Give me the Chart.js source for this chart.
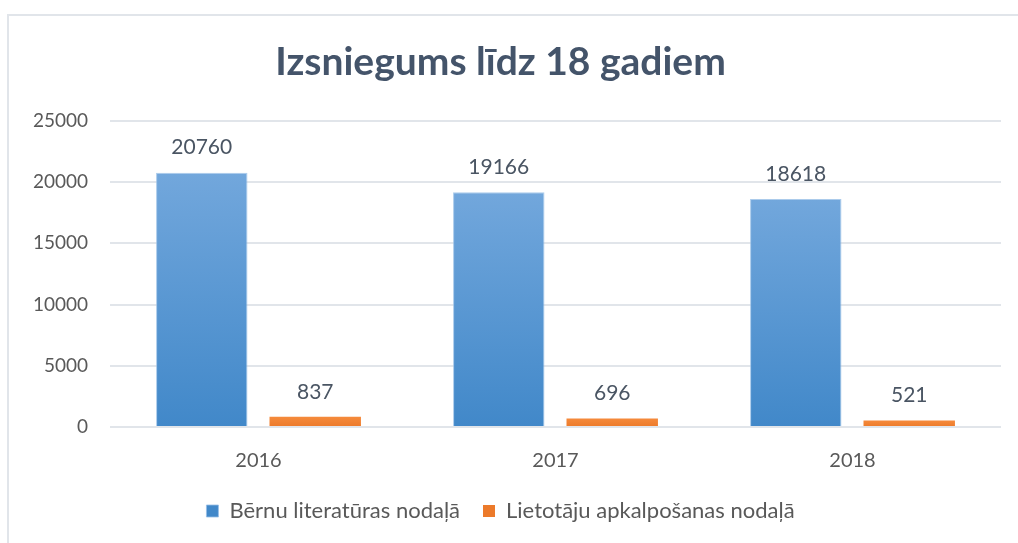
<!DOCTYPE html>
<html>
<head>
<meta charset="utf-8">
<script src="https://cdn.jsdelivr.net/npm/chart.js@4.4.0/dist/chart.umd.min.js"></script>
<style>
  html, body { margin: 0; padding: 0; background: #fff; }
  #wrap { position: relative; width: 1018px; height: 543px; overflow: hidden; }
  #frame { position: absolute; left: 7px; top: 14px; width: 1100px; height: 600px;
           border-top: 2px solid #e1e5ea; border-left: 2px solid #e1e5ea; }
  canvas { position: absolute; left: 0; top: 0; }
</style>
</head>
<body>
<div id="wrap">
  <div id="frame"></div>
  <!-- canvas runs a little past the right edge so the title sits where the original has it -->
  <canvas id="chart" width="1039" height="543"></canvas>
</div>
<script>
const years = ['2016', '2017', '2018'];
const bernuValues = [20760, 19166, 18618];
const lietotajuValues = [837, 696, 521];
const seriesNames = ['Bērnu literatūras nodaļā', 'Lietotāju apkalpošanas nodaļā'];
const titleText = 'Izsniegums līdz 18 gadiem';

const FONT = 'Lato, "Open Sans", sans-serif';
const TEXT = '#595959';

// each bar gets its own top-to-bottom gradient, like the office chart
function barGradient(top, bottom, fallback) {
  return function(c) {
    const chart = c.chart;
    const y = chart.scales && chart.scales.y;
    if (!chart.chartArea || !y || c.raw === undefined) return fallback;
    const y0 = y.getPixelForValue(c.raw);
    const y1 = y.getPixelForValue(0);
    const g = chart.ctx.createLinearGradient(0, y0, 0, y1);
    g.addColorStop(0, top);
    g.addColorStop(1, bottom);
    return g;
  };
}

const valueLabels = {
  id: 'valueLabels',
  afterDatasetsDraw(chart) {
    const ctx = chart.ctx;
    ctx.save();
    ctx.font = '21px ' + FONT;
    ctx.fillStyle = '#4a5563';
    ctx.textAlign = 'center';
    ctx.textBaseline = 'middle';
    chart.data.datasets.forEach((ds, i) => {
      chart.getDatasetMeta(i).data.forEach((el, j) => {
        ctx.fillText(String(ds.data[j]), el.x, el.y - 25);
      });
    });
    ctx.restore();
  }
};

new Chart(document.getElementById('chart'), {
  type: 'bar',
  data: {
    labels: years,
    datasets: [
      {
        label: seriesNames[0],
        data: bernuValues,
        backgroundColor: barGradient('#72a7dc', '#4188c9', '#5b9bd5'),
        borderColor: 'rgba(150,190,230,0.8)',
        borderWidth: 1,
        categoryPercentage: 0.764,
        barPercentage: 0.806
      },
      {
        label: seriesNames[1],
        data: lietotajuValues,
        backgroundColor: barGradient('#f58a3c', '#ec7a2a', '#ed7d31'),
        borderWidth: 0,
        categoryPercentage: 0.764,
        barPercentage: 0.806
      }
    ]
  },
  options: {
    responsive: false,
    animation: false,
    layout: { padding: { left: 0, right: 38, top: 0, bottom: 11 } },
    plugins: {
      title: {
        display: true,
        text: titleText,
        color: '#44546a',
        font: { family: FONT, size: 39, weight: 'bold' },
        padding: { top: 39, bottom: 35 }
      },
      legend: {
        position: 'bottom',
        labels: {
          color: TEXT,
          font: { family: FONT, size: 22 },
          boxWidth: 12,
          boxHeight: 12,
          padding: 23,
          useBorderRadius: false
        }
      },
      tooltip: { enabled: false }
    },
    scales: {
      x: {
        grid: { display: false },
        border: { display: false },
        ticks: { color: TEXT, font: { family: FONT, size: 20 }, padding: 14 },
        afterFit(s) { s.height = 50; }
      },
      y: {
        min: 0,
        max: 25000,
        ticks: {
          stepSize: 5000,
          color: TEXT,
          font: { family: FONT, size: 19 },
          padding: 22,
          callback: v => String(v)
        },
        grid: { color: '#e1e5ea', lineWidth: 2, drawTicks: false },
        border: { display: false },
        afterFit(s) { s.width = 110; }
      }
    }
  },
  plugins: [valueLabels]
});
</script>
</body>
</html>
